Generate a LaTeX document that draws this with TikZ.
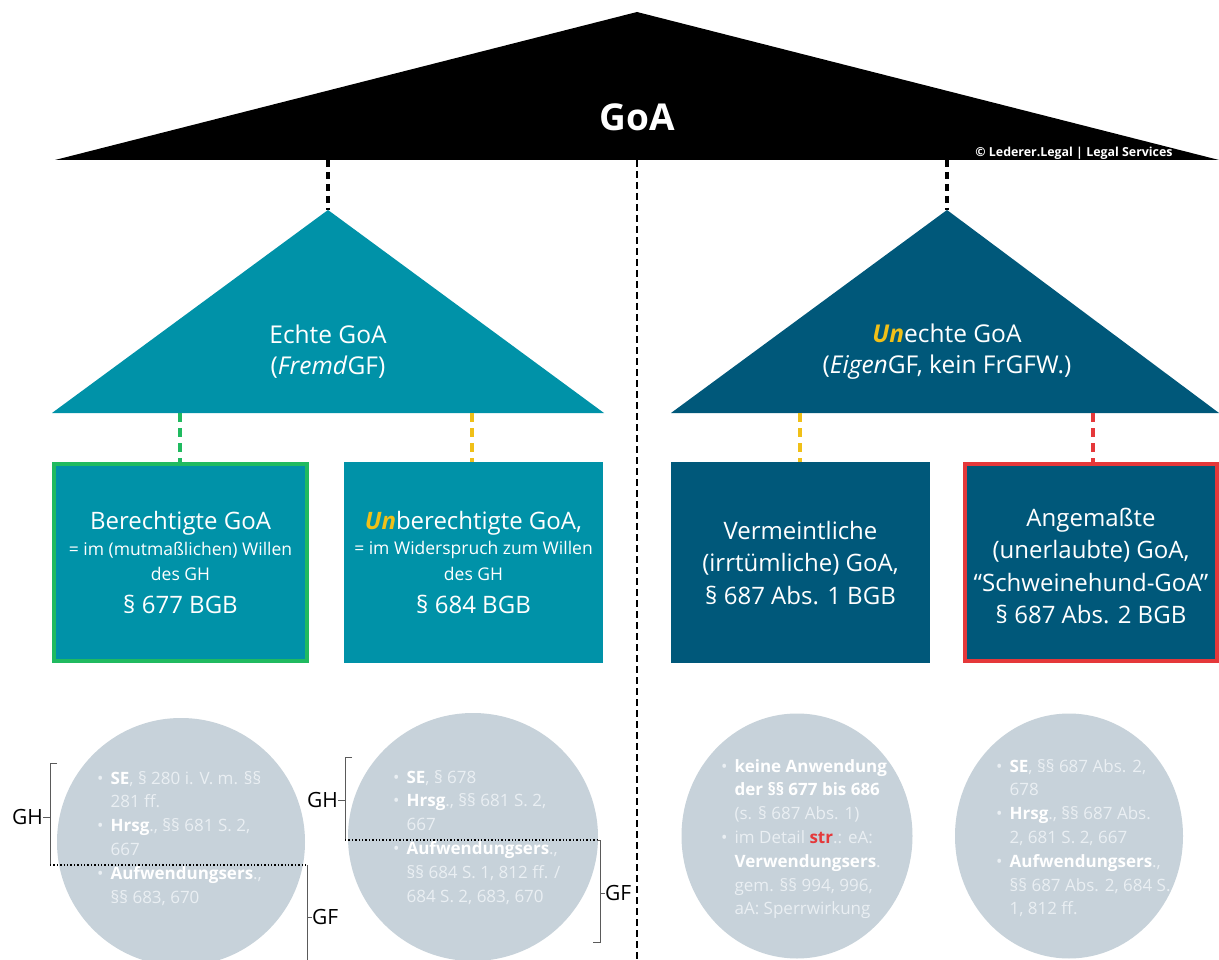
\documentclass[tikz,border=0pt]{standalone}
\usepackage{fontspec}
\setmainfont{Open Sans}
\usetikzlibrary{shapes.geometric}
\definecolor{tealA}{RGB}{0,146,168}
\definecolor{tealB}{RGB}{0,88,122}
\definecolor{grnC}{RGB}{32,186,96}
\definecolor{ylwC}{RGB}{240,192,24}
\definecolor{redC}{RGB}{229,56,58}
\definecolor{circC}{RGB}{199,210,218}
\definecolor{ctext}{RGB}{234,239,243}
\definecolor{brkC}{RGB}{90,90,90}
\newcommand{\fs}[2]{\fontsize{#1}{#2}\selectfont}
\begin{document}
\begin{tikzpicture}[x=1pt,y=-1pt,
  blackdash/.style={draw=black,line width=4pt,dash pattern=on 7pt off 5pt},
  centerdash/.style={draw=black,line width=2.2pt,dash pattern=on 7pt off 4pt},
  coldash/.style={draw=#1,line width=3.5pt,dash pattern=on 9pt off 6pt},
  boxnode/.style={rectangle,inner sep=0pt,minimum height=201pt},
  bigtxt/.style={text=white,font=\fs{24}{32.5},align=center,inner sep=0pt},
  smalltxt/.style={text=white,font=\fs{17.5}{20},inner sep=0pt},
  circnode/.style={ellipse,fill=circC,inner sep=0pt},
  circtxt/.style={text=ctext,font=\fs{17}{23.8},anchor=base west,inner sep=0pt},
  brk/.style={draw=brkC,line width=0.9pt},
  dotline/.style={draw=black,line width=1.4pt,dotted},
  brklabel/.style={font=\fs{21}{24},text=black,inner sep=0pt}
]
\clip (0,0) rectangle (1219,960);
\fill[white] (0,0) rectangle (1219,960);

% top roof
\fill[black] (55,160) -- (637,12) -- (1219,160) -- cycle;
\node[text=white,font=\bfseries\fs{37}{40},inner sep=0pt] (goa) at (637,117) {GoA};
\node[text=white,font=\bfseries\fs{12.4}{14},inner sep=0pt] (copy) at (1074,153) {© Lederer.Legal | Legal Services};

% center dashed line
\coordinate (ctop) at (637,160);
\coordinate (cbot) at (637,960);
\draw[centerdash] (ctop) -- (cbot);

% second level triangles
\fill[tealA] (52,413) -- (328,210) -- (604,413) -- cycle;
\fill[tealB] (671,413) -- (947,210) -- (1219,413) -- cycle;
\coordinate (roofL) at (328,160);
\coordinate (roofR) at (947,160);
\coordinate (apexL) at (328,210);
\coordinate (apexR) at (947,210);
\draw[blackdash] (roofL) -- (apexL);
\draw[blackdash] (roofR) -- (apexR);
\node[text=white,font=\fs{24.5}{31},align=center,inner sep=0pt] (echte) at (328,352)
  {Echte GoA\\(\textit{Fremd}GF)};
\node[text=white,font=\fs{24.5}{31},align=center,inner sep=0pt] (unechte) at (947,352)
  {\textcolor{ylwC}{\textbf{\textit{Un}}}echte GoA\\(\textit{Eigen}GF, kein FrGFW.)};

% boxes
\node[boxnode,fill=tealA,draw=grnC,line width=4pt,minimum width=253pt,minimum height=197pt] (b1) at (180.5,562.5) {};
\node[boxnode,fill=tealA,minimum width=259pt] (b2) at (473.5,562.5) {};
\node[boxnode,fill=tealB,minimum width=259pt] (b3) at (800.5,562.5) {};
\node[boxnode,fill=tealB,draw=redC,line width=4pt,minimum width=252pt,minimum height=197pt] (b4) at (1091,562.5) {};

\coordinate (baseL1) at (180,413);
\coordinate (baseL2) at (472,413);
\coordinate (baseR1) at (800,413);
\coordinate (baseR2) at (1093,413);
\draw[coldash=grnC] (baseL1) -- (baseL1 |- b1.north);
\draw[coldash=ylwC] (baseL2) -- (baseL2 |- b2.north);
\draw[coldash=ylwC] (baseR1) -- (baseR1 |- b3.north);
\draw[coldash=redC] (baseR2) -- (baseR2 |- b4.north);

% box texts
\node[bigtxt] (b1a) at (180.5,523) {Berechtigte GoA};
\node[smalltxt] (b1b) at (180.5,550) {= im (mutmaßlichen) Willen};
\node[smalltxt] (b1c) at (180.5,574) {des GH};
\node[bigtxt] (b1d) at (180.5,604) {§ 677 BGB};

\node[bigtxt] (b2a) at (473.5,523) {\textcolor{ylwC}{\textbf{\textit{Un}}}berechtigte GoA,};
\node[smalltxt] (b2b) at (473.5,550) {= im Widerspruch zum Willen};
\node[smalltxt] (b2c) at (473.5,574) {des GH};
\node[bigtxt] (b2d) at (473.5,604) {§ 684 BGB};

\node[bigtxt] (b3t) at (800.5,563) {Vermeintliche\\(irrtümliche) GoA,\\§ 687 Abs. 1 BGB};
\node[bigtxt] (b4t) at (1091,566) {Angemaßte\\(unerlaubte) GoA,\\“Schweinehund-GoA”\\§ 687 Abs. 2 BGB};

% circles
\node[circnode,minimum width=248pt,minimum height=248pt] (c1) at (181,842) {};
\node[circnode,minimum width=250pt,minimum height=248pt] (c2) at (473,837) {};
\node[circnode,minimum width=231pt,minimum height=245pt] (c3) at (797,836) {};
\node[circnode,minimum width=228pt,minimum height=245pt] (c4) at (1069,836) {};

\node[circtxt] (c1t) at (97,784) {\begin{tabular}[t]{@{}l@{\hspace{7pt}}l@{}}
•&\textcolor{white}{\textbf{SE}}, § 280 i. V. m. §§\\
 &281 ff.\\
•&\textcolor{white}{\textbf{Hrsg}}., §§ 681 S. 2,\\
 &667\\
•&\textcolor{white}{\textbf{Aufwendungsers}}.,\\
 &§§ 683, 670
\end{tabular}};
\node[circtxt] (c2t) at (393,783) {\begin{tabular}[t]{@{}l@{\hspace{7pt}}l@{}}
•&\textcolor{white}{\textbf{SE}}, § 678\\
•&\textcolor{white}{\textbf{Hrsg}}., §§ 681 S. 2,\\
 &667\\
•&\textcolor{white}{\textbf{Aufwendungsers}}.,\\
 &§§ 684 S. 1, 812 ff. /\\
 &684 S. 2, 683, 670
\end{tabular}};
\node[circtxt] (c3t) at (721,772) {\begin{tabular}[t]{@{}l@{\hspace{7pt}}l@{}}
•&\textcolor{white}{\textbf{keine Anwendung}}\\
 &\textcolor{white}{\textbf{der §§ 677 bis 686}}\\
 &(s. § 687 Abs. 1)\\
•&im Detail \textcolor{redC}{\textbf{str}}.: eA:\\
 &\textcolor{white}{\textbf{Verwendungsers}}.\\
 &gem. §§ 994, 996,\\
 &aA: Sperrwirkung
\end{tabular}};
\node[circtxt] (c4t) at (996,772) {\begin{tabular}[t]{@{}l@{\hspace{7pt}}l@{}}
•&\textcolor{white}{\textbf{SE}}, §§ 687 Abs. 2,\\
 &678\\
•&\textcolor{white}{\textbf{Hrsg}}., §§ 687 Abs.\\
 &2, 681 S. 2, 667\\
•&\textcolor{white}{\textbf{Aufwendungsers}}.,\\
 &§§ 687 Abs. 2, 684 S.\\
 &1, 812 ff.
\end{tabular}};

% brackets circle 1
\coordinate (g1top) at (50,763);
\coordinate (g1bot) at (50,865);
\coordinate (f1top) at (307,865);
\coordinate (f1bot) at (307,960);
\node[brklabel,anchor=east] (gh1) at (43,817) {GH};
\node[brklabel,anchor=west] (gf1) at (312,917) {GF};
\draw[brk] ([xshift=7pt]g1top) -- (g1top) -- (g1bot);
\draw[brk] (gh1.east) -- (gh1.east -| g1top);
\draw[dotline] (g1bot) -- (f1top);
\draw[brk] (f1top) -- (f1bot);
\draw[brk] (gf1.west) -- (gf1.west -| f1top);

% brackets circle 2
\coordinate (g2top) at (345,757);
\coordinate (g2bot) at (345,840);
\coordinate (f2top) at (600,840);
\coordinate (f2bot) at (600,942);
\node[brklabel,anchor=east] (gh2) at (338,800) {GH};
\node[brklabel,anchor=west] (gf2) at (605,893) {GF};
\draw[brk] ([xshift=7pt]g2top) -- (g2top) -- (g2bot);
\draw[brk] (gh2.east) -- (gh2.east -| g2top);
\draw[dotline] (g2bot) -- ([xshift=-2pt]f2top);
\draw[brk] ([xshift=-3pt]f2top) -- (f2top) -- (f2bot) -- ([xshift=-7pt]f2bot);
\draw[brk] (gf2.west) -- (gf2.west -| f2top);
\end{tikzpicture}
\end{document}
